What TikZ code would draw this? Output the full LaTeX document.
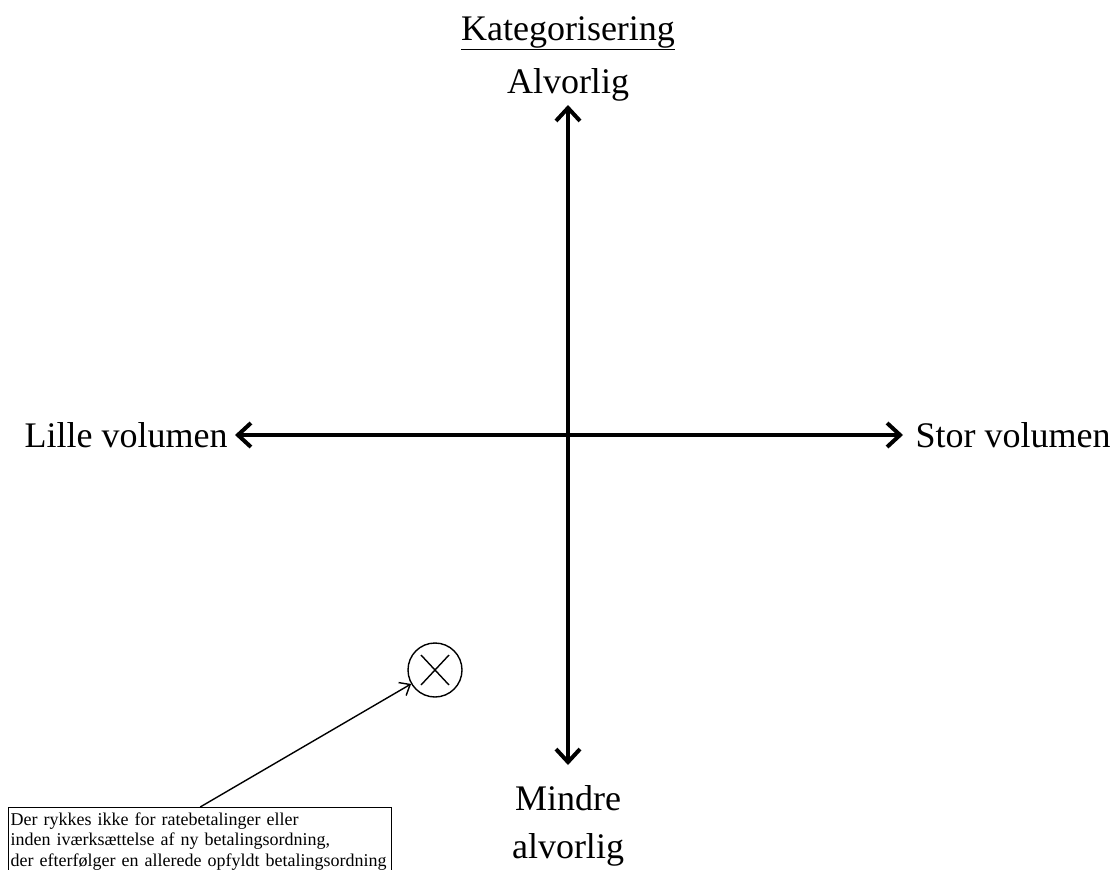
\documentclass[tikz,border=0pt]{standalone}
\usepackage{fontspec}
\setmainfont{Liberation Serif}
\usetikzlibrary{arrows.meta}
\tikzset{
  barbtip/.tip={Straight Barb[length=13pt,width=24pt,line width=4pt]},
  lbl/.style={font=\fontsize{36}{43}\selectfont, inner sep=0pt, anchor=base},
  axis/.style={line width=3.5pt, {barbtip}-{barbtip}},
  thin/.style={line width=1.4pt},
  note/.style={draw, thin, font=\fontsize{18}{20.5}\selectfont, align=left, inner xsep=2pt, inner ysep=5pt, anchor=north west, text width=379pt},
}
\begin{document}
\begin{tikzpicture}[x=1pt,y=-1pt]
\useasboundingbox (0,0) rectangle (1114,870);
\node[lbl] (title) at (568,40) {\underline{Kategorisering}};
\node[lbl] (alv) at (568,93) {Alvorlig};
\node[lbl] (lille) at (126,447) {Lille volumen};
\node[lbl] (stor) at (1013,447) {Stor volumen};
\node[lbl] (mindre) at (568,810) {Mindre};
\node[lbl] (alv2) at (568,858) {alvorlig};
\coordinate (top) at (568,105);
\coordinate (bot) at (568,765);
\coordinate (left) at (235,435);
\coordinate (right) at (903,435);
\draw[axis] (top) -- (bot);
\draw[axis] (left) -- (right);
\node[draw, thin, circle, minimum size=54pt, inner sep=0pt] (circ) at (435,670) {};
\draw[thin] ([shift={(-14,-15)}]circ.center) -- ([shift={(14,15)}]circ.center);
\draw[thin] ([shift={(14,-15)}]circ.center) -- ([shift={(-14,15)}]circ.center);
\node[note] (box) at (8,807) {Der rykkes ikke for ratebetalinger eller\\inden iværksættelse af ny betalingsordning,\\der efterfølger en allerede opfyldt betalingsordning\\};
\draw[thin, -{Straight Barb[length=9pt,width=15pt]}] (box.north) -- (circ);
\end{tikzpicture}
\end{document}
